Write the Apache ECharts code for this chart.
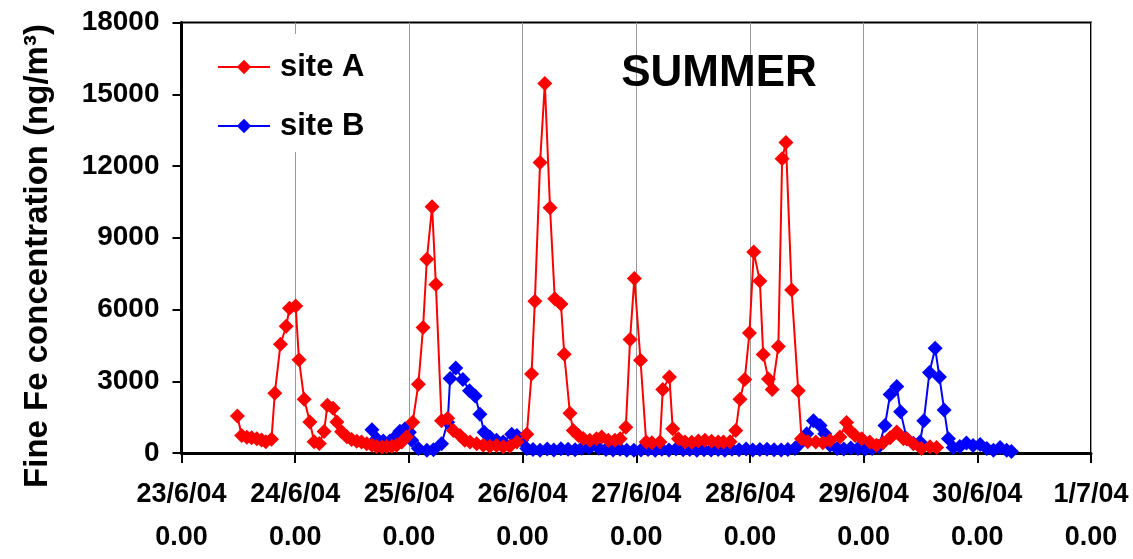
<!DOCTYPE html>
<html>
<head>
<meta charset="utf-8">
<script src="https://cdn.jsdelivr.net/npm/echarts@6/dist/echarts.min.js"></script>
<style>
  html, body { margin: 0; padding: 0; background: #fff; }
  #chart { width: 1133px; height: 559px; }
</style>
</head>
<body>
<div id="chart"></div>
<script>
// Fine Fe concentration, summer campaign. x = hours since 23/6/04 0:00
const dayLabels = ['23/6/04', '24/6/04', '25/6/04', '26/6/04', '27/6/04', '28/6/04', '29/6/04', '30/6/04', '1/7/04'];
const timeLabel = '0.00';
const yTicks = [0, 3000, 6000, 9000, 12000, 15000, 18000];

const siteAHours = [11.8, 12.7, 13.8, 14.8, 15.9, 16.9, 17.8, 19.0, 19.7, 20.9, 22.1, 22.8, 24.1, 24.8, 25.9, 27.1, 28.0, 29.1, 30.1, 30.8,
  32.0, 32.8, 33.8, 34.9, 35.9, 37.0, 38.0, 39.1, 40.2, 41.2, 42.3, 43.3, 44.4, 45.4, 46.5, 47.5, 48.8, 50.0, 51.0, 51.8,
  52.9, 53.7, 54.9, 56.2, 57.4, 58.8, 59.8, 60.9, 62.3, 63.7, 65.1, 66.5, 67.9, 69.3, 70.8, 72.9, 73.9, 74.6, 75.7, 76.7,
  77.8, 78.8, 80.1, 80.8, 82.0, 82.7, 83.8, 84.8, 86.2, 87.6, 88.7, 90.1, 91.5, 92.6, 93.8, 94.7, 95.6, 96.9, 98.1, 99.3,
  101.0, 101.6, 103.0, 103.7, 104.9, 106.3, 107.7, 109.1, 110.5, 111.9, 113.3, 114.4, 115.8, 117.0, 117.9, 118.9, 119.9, 120.8, 122.1, 122.8,
  123.9, 124.7, 126.0, 126.8, 127.6, 128.8, 130.2, 130.9, 132.2, 133.9, 135.4, 136.9, 139.0, 140.4, 141.1, 142.2, 143.6, 145.3, 146.7, 148.1,
  149.6, 151.0, 152.4, 153.1, 154.5, 156.2, 158.0, 159.4];
const siteAValues = [1550, 730, 660, 640, 600, 540, 470, 580, 2500, 4550, 5300, 6050, 6150, 3900, 2250, 1300, 470, 400, 900, 2000,
  1870, 1300, 890, 680, 560, 490, 460, 390, 320, 270, 250, 270, 280, 320, 460, 670, 1290, 2870, 5250, 8100,
  10300, 7050, 1350, 1450, 940, 730, 530, 460, 390, 320, 280, 310, 260, 280, 460, 780, 3300, 6350, 12150, 15450,
  10250, 6450, 6230, 4130, 1660, 940, 730, 610, 530, 600, 670, 530, 530, 600, 1080, 4750, 7300, 3880, 460, 430,
  460, 2650, 3180, 1010, 600, 460, 450, 500, 530, 490, 460, 460, 470, 940, 2250, 3070, 5020, 8400, 7190, 4120,
  3090, 2650, 4450, 12300, 12980, 6820, 2600, 600, 470, 460, 430, 520, 670, 1280, 940, 730, 600, 460, 320, 430,
  640, 880, 600, 600, 390, 190, 260, 230];

const siteBHours = [40.2, 41.2, 42.6, 44.0, 45.1, 46.1, 47.2, 48.1, 48.6, 50.0, 51.8, 53.2, 54.9, 56.2, 56.7, 57.9, 59.4, 60.8, 62.0, 63.0,
  63.9, 65.1, 66.5, 67.9, 69.7, 70.8, 71.8, 72.9, 74.2, 75.7, 77.2, 78.6, 80.1, 81.6, 83.1, 84.5, 86.0, 86.7, 88.1, 89.6,
  91.1, 92.6, 94.0, 95.5, 97.0, 98.5, 100.0, 101.4, 102.9, 104.4, 105.9, 107.3, 108.8, 110.3, 111.8, 113.3, 114.7, 116.2, 117.7, 119.2,
  120.6, 122.1, 123.6, 125.1, 126.6, 128.0, 129.5, 130.2, 132.0, 133.4, 134.8, 135.8, 136.9, 138.4, 139.8, 141.3, 142.8, 144.3, 145.8, 147.2,
  148.5, 149.6, 151.0, 151.8, 153.1, 154.5, 155.9, 156.7, 157.9, 159.1, 160.0, 161.0, 161.9, 162.9, 164.3, 165.7, 167.1, 168.6, 170.0, 171.4,
  172.8, 174.2, 175.2];
const siteBValues = [970, 600, 500, 500, 670, 910, 1010, 870, 530, 190, 120, 140, 390, 1290, 3110, 3550, 3070, 2600, 2380, 1620,
  870, 670, 530, 460, 780, 730, 530, 190, 150, 120, 170, 130, 180, 160, 140, 200, 220, 320, 200, 150,
  130, 160, 120, 110, 130, 150, 120, 160, 130, 170, 140, 150, 120, 140, 130, 150, 110, 160, 140, 170,
  130, 150, 160, 140, 130, 150, 190, 320, 800, 1350, 1150, 800, 320, 190, 170, 210, 190, 170, 190, 270,
  1150, 2450, 2780, 1720, 600, 410, 460, 1350, 3370, 4380, 3180, 1800, 600, 230, 270, 420, 310, 360, 190, 120,
  230, 120, 60];

const pairs = (xs, ys) => xs.map((x, i) => [x, ys[i]]);

const FONT = '"Liberation Sans", Arial, sans-serif';
// square rotated by 45 degrees, as the marker shape
const DIAMOND = 'path://M0,-1L1,0L0,1L-1,0Z';

const chart = echarts.init(document.getElementById('chart'), null, { renderer: 'canvas' });

chart.setOption({
  backgroundColor: '#ffffff',
  animation: false,
  title: {
    text: 'SUMMER',
    left: 714,
    top: 47,
    textAlign: 'center',
    textStyle: { fontFamily: FONT, fontWeight: 'bold', fontSize: 44, color: '#000' }
  },
  legend: {
    orient: 'vertical',
    left: 205,
    top: 34,
    padding: [15, 12, 8, 12],
    backgroundColor: '#ffffff',
    itemWidth: 52,
    itemHeight: 18,
    itemGap: 23,
    textStyle: { fontFamily: FONT, fontWeight: 'bold', fontSize: 31, color: '#000', lineHeight: 36, padding: [0, 0, 0, 5] },
    data: ['site A', 'site B']
  },
  grid: {
    left: 181.5,
    right: 42,
    top: 22.5,
    bottom: 99.5,
    show: true,
    borderColor: '#000',
    borderWidth: 2,
    backgroundColor: 'transparent'
  },
  xAxis: {
    type: 'value',
    min: 0,
    max: 192,
    interval: 24,
    axisLine: { show: true, onZero: false, lineStyle: { color: '#000', width: 3 } },
    axisTick: { show: true, length: 10, lineStyle: { color: '#000', width: 2 } },
    splitLine: { show: true, lineStyle: { color: '#999', width: 1 } },
    axisLabel: {
      margin: 20,
      fontFamily: FONT,
      fontWeight: 'bold',
      fontSize: 27,
      color: '#000',
      lineHeight: 43,
      showMinLabel: true,
      showMaxLabel: true,
      formatter: v => dayLabels[Math.round(v / 24)] + '\n' + timeLabel
    }
  },
  yAxis: {
    type: 'value',
    min: yTicks[0],
    max: yTicks[yTicks.length - 1],
    interval: yTicks[1] - yTicks[0],
    axisLine: { show: true, lineStyle: { color: '#000', width: 3 } },
    axisTick: { show: true, length: 9, lineStyle: { color: '#000', width: 2 } },
    splitLine: { show: false },
    axisLabel: {
      margin: 22,
      fontFamily: FONT,
      fontWeight: 'bold',
      fontSize: 28,
      color: '#000',
      formatter: v => String(v)
    }
  },
  graphic: [{
    type: 'text',
    x: 38,
    y: 256,
    rotation: Math.PI / 2,
    style: {
      text: 'Fine Fe concentration (ng/m³)',
      fontFamily: FONT,
      fontWeight: 'bold',
      fontSize: 33,
      fill: '#000',
      textAlign: 'center',
      textVerticalAlign: 'middle'
    }
  }],
  series: [
    {
      name: 'site A',
      type: 'line',
      z: 3,
      data: pairs(siteAHours, siteAValues),
      symbol: DIAMOND,
      symbolSize: 15,
      showAllSymbol: true,
      color: '#ff0000',
      lineStyle: { color: '#ff0000', width: 2 },
      itemStyle: { color: '#ff0000' }
    },
    {
      name: 'site B',
      type: 'line',
      z: 2,
      data: pairs(siteBHours, siteBValues),
      symbol: DIAMOND,
      symbolSize: 15,
      showAllSymbol: true,
      color: '#0000ff',
      lineStyle: { color: '#0000ff', width: 2 },
      itemStyle: { color: '#0000ff' }
    }
  ]
});
</script>
</body>
</html>
